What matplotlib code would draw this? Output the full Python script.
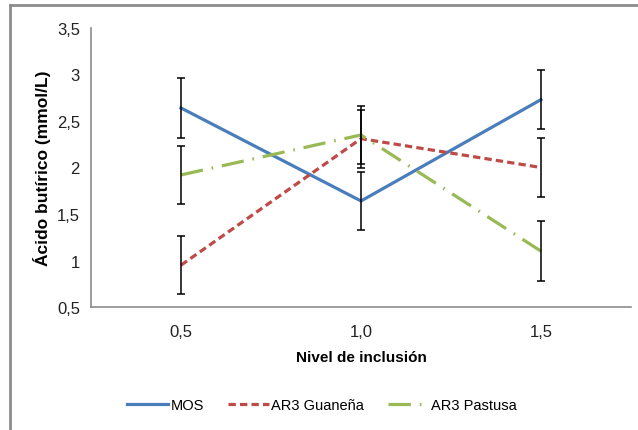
import matplotlib
matplotlib.use("Agg")
import matplotlib.pyplot as plt
from matplotlib.lines import Line2D

# Butyric acid by inclusion level
niveles = ["0,5", "1,0", "1,5"]
mos = [2.64, 1.64, 2.73]
mos_err = [0.32, 0.31, 0.32]
guanena = [0.95, 2.31, 2.00]
guanena_err = [0.31, 0.31, 0.32]
pastusa = [1.92, 2.35, 1.10]
pastusa_err = [0.31, 0.31, 0.32]
y_ticks = [0.5, 1.0, 1.5, 2.0, 2.5, 3.0, 3.5]

plt.rcParams['font.family'] = ['Liberation Sans', 'DejaVu Sans']

W, H = 638, 431
fig = plt.figure(figsize=(W / 100, H / 100), dpi=100)
ax = fig.add_axes([91 / W, 1 - 308 / H, 540 / W, 279 / H])

x = list(range(len(niveles)))
series = [
    ("MOS", mos, mos_err, "#4A7EBB", dict(linestyle="-")),
    ("AR3 Guaneña", guanena, guanena_err, "#BE4B48", dict(dashes=(2.3, 1.3))),
    ("AR3 Pastusa", pastusa, pastusa_err, "#98B954", dict(dashes=(7, 2.8, 0.5, 2.8))),
]
handles = []
for name, vals, err, color, style in series:
    line, = ax.plot(x, vals, color=color, lw=2.3, label=name, zorder=2, **style)
    ax.errorbar(x, vals, yerr=err, fmt="none", ecolor="black", elinewidth=1.1,
                capsize=3, capthick=1.1, zorder=3)
    handles.append(line)

ax.set_xlim(-0.5, 2.5)
ax.set_ylim(0.5, 3.5)
ax.set_xticks(x)
ax.set_xticklabels(niveles)
ax.set_yticks(y_ticks)
ax.set_yticklabels([f"{v:g}".replace(".", ",") for v in y_ticks])
ax.tick_params(axis="both", length=0, labelsize=12, colors="#222222")
ax.tick_params(axis="x", pad=12)
ax.tick_params(axis="y", pad=8)

for side in ("top", "right"):
    ax.spines[side].set_visible(False)
for side in ("left", "bottom"):
    ax.spines[side].set_color("#8c8c8c")
    ax.spines[side].set_linewidth(1.2)

ax.set_xlabel("Nivel de inclusión", fontsize=11, fontweight="bold", labelpad=8)
ax.set_ylabel("Ácido butírico (mmol/L)", fontsize=12.5, fontweight="bold", labelpad=4)

fig.legend(handles=handles, loc="center", bbox_to_anchor=(0.505, 1 - 406 / H),
           ncol=3, frameon=False, fontsize=10.5, handlelength=2.8, columnspacing=1.6,
           handletextpad=0.2)

# outer chart frame
frame_kw = dict(color="#8c8c8c", lw=2, transform=fig.transFigure)
fig.add_artist(Line2D([10 / W, 1], [1 - 6 / H, 1 - 6 / H], **frame_kw))
fig.add_artist(Line2D([10 / W, 10 / W], [0, 1 - 6 / H], **frame_kw))

fig.savefig("out.png", dpi=100)
